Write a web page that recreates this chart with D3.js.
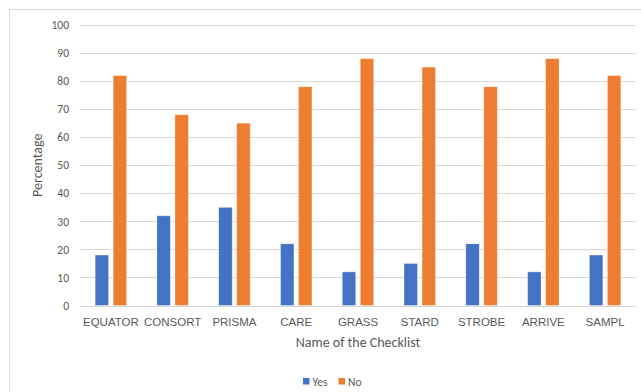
<!DOCTYPE html>
<html>
<head>
<meta charset="utf-8">
<script src="https://cdnjs.cloudflare.com/ajax/libs/d3/7.8.5/d3.min.js"></script>
<style>
html,body{margin:0;padding:0;background:#fff;}
svg{display:block;font-family:Calibri,Carlito,"Liberation Sans","DejaVu Sans",sans-serif;}
</style>
</head>
<body>
<svg id="chart" width="641" height="392"></svg>
<script>
const categories = ["EQUATOR","CONSORT","PRISMA","CARE","GRASS","STARD","STROBE","ARRIVE","SAMPL"];
const yesValues = [18,32,35,22,12,15,22,12,18];
const noValues = [82,68,65,78,88,85,78,88,82];
const seriesNames = ["Yes","No"];
const seriesColors = ["#4472C4","#ED7D31"];
const yTicks = [0,10,20,30,40,50,60,70,80,90,100];

const svg = d3.select("#chart");
const margin = {left:80, right:636, top:25, bottom:305.5};

// outer border
svg.append("rect").attr("x",9.5).attr("y",9.5).attr("width",700).attr("height",500)
  .attr("fill","none").attr("stroke","#d9d9d9").attr("stroke-width",1);

const x = d3.scaleBand().domain(categories).range([margin.left, margin.right]).padding(0);
const y = d3.scaleLinear().domain([0,100]).range([margin.bottom, margin.top]);

// gridlines
svg.append("g").selectAll("line").data(yTicks).join("line")
  .attr("x1",margin.left).attr("x2",margin.right)
  .attr("y1",d=>Math.round(y(d))+0.5).attr("y2",d=>Math.round(y(d))+0.5)
  .attr("stroke","#d9d9d9").attr("stroke-width",1);

// y axis labels
const yAxis = d3.axisLeft(y).tickValues(yTicks).tickSize(0).tickPadding(0);
const yg = svg.append("g").attr("transform",`translate(${margin.left-11},0)`).call(yAxis);
yg.select(".domain").remove();
yg.selectAll("text").attr("fill","#595959").attr("font-size","11.5px")
  .attr("font-family","Calibri,Carlito,'Liberation Sans',sans-serif");

// x axis labels
const xAxis = d3.axisBottom(x).tickSize(0).tickPadding(0);
const xg = svg.append("g").attr("transform",`translate(0,${margin.bottom+12})`).call(xAxis);
xg.select(".domain").remove();
xg.selectAll("text").attr("fill","#595959").attr("font-size","11.5px");

// bars
const bw = 13.5, gap = 4.5;
const series = [yesValues, noValues];
series.forEach((vals, si) => {
  svg.append("g").selectAll("rect").data(categories).join("rect")
    .attr("x", (c)=> x(c) + x.bandwidth()/2 + (si===0 ? -gap/2 - bw : gap/2))
    .attr("width", bw)
    .attr("y", (c,i)=> y(vals[i]))
    .attr("height", (c,i)=> y(0) - y(vals[i]))
    .attr("fill", seriesColors[si])
    .attr("stroke","#ffffff").attr("stroke-opacity",0.5).attr("stroke-width",0.75);
});

// axis titles
svg.append("text").attr("transform",`translate(42,${(margin.top+margin.bottom)/2}) rotate(-90)`)
  .attr("text-anchor","middle").attr("fill","#595959").attr("font-size","14px").text("Percentage");
svg.append("text").attr("x",(margin.left+margin.right)/2).attr("y",347)
  .attr("text-anchor","middle").attr("fill","#595959").attr("font-size","14px").text("Name of the Checklist");

// legend
const legend = svg.append("g");
const legendItems = [{name:seriesNames[0], color:seriesColors[0], x:303},{name:seriesNames[1], color:seriesColors[1], x:338.5}];
legendItems.forEach(it=>{
  legend.append("rect").attr("x",it.x).attr("y",378).attr("width",6.5).attr("height",6.5).attr("fill",it.color);
  legend.append("text").attr("x",it.x+9.5).attr("y",385.5).attr("fill","#595959").attr("font-size","11.5px").text(it.name);
});
</script>
</body>
</html>
